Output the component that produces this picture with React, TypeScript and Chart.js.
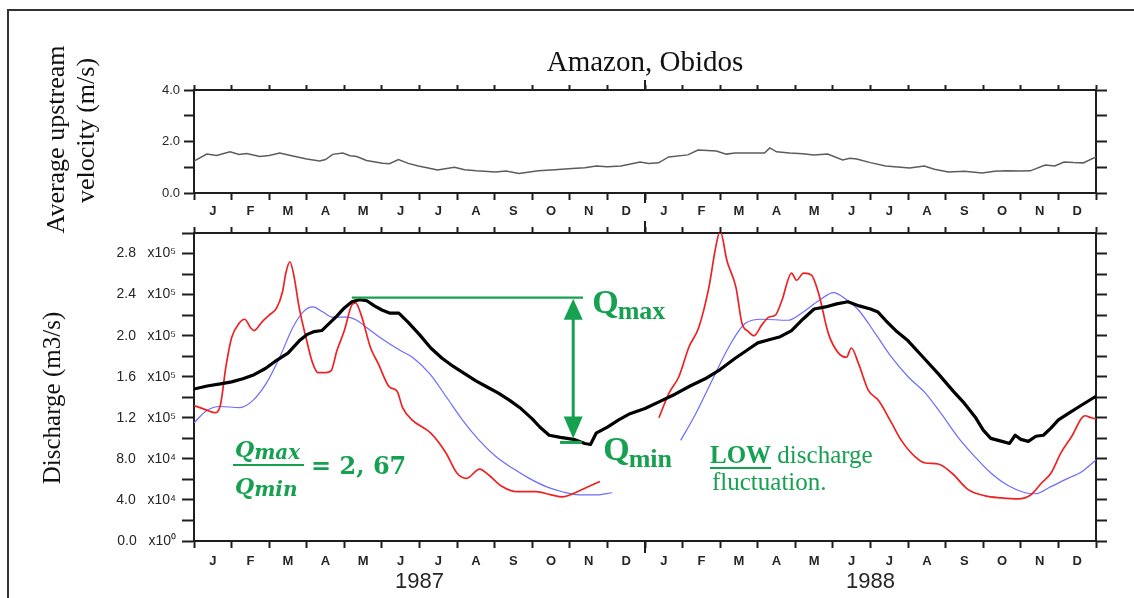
import React, { useEffect, useRef } from 'react';
import { Chart, registerables } from 'chart.js';

Chart.register(...registerables);

// ---------- texts ----------
const TITLE = 'Amazon, Obidos';
const VEL_AXIS_TITLE = ['Average upstream', 'velocity (m/s)'];
const Q_AXIS_TITLE = 'Discharge (m3/s)';
const MONTH_LETTERS = ['J', 'F', 'M', 'A', 'M', 'J', 'J', 'A', 'S', 'O', 'N', 'D'];
const YEAR_LABELS = ['1987', '1988'];
const YEAR_CENTERS = [6, 18];
const YEAR_BOUNDARY = 12;

// ---------- tick values / labels ----------
const VEL_TICKS = [0, 1, 2, 3, 4];
const VEL_TICK_LABELS = ['0.0', '', '2.0', '', '4.0'];
const Q_TICKS = [0, 0.2, 0.4, 0.6, 0.8, 1.0, 1.2, 1.4, 1.6, 1.8, 2.0, 2.2, 2.4, 2.6, 2.8, 3.0];
const Q_TICK_LABELS = [
  '0.0   x10⁰', '', '4.0   x10⁴', '', '8.0   x10⁴', '', '1.2   x10⁵', '', '1.6   x10⁵', '',
  '2.0   x10⁵', '', '2.4   x10⁵', '', '2.8   x10⁵', '',
];
const MONTH_EDGES = [0, 1, 2, 3, 4, 5, 6, 7, 8, 9, 10, 11, 12, 13, 14, 15, 16, 17, 18, 19, 20, 21, 22, 23, 24];

// ---------- data (x: months since 1 Jan 1987) ----------
// average upstream velocity (m/s)
const VEL_T = [0, 0.34, 0.6, 0.96, 1.2, 1.4, 1.75, 2.0, 2.28, 2.63, 3.0, 3.34, 3.5, 3.69, 3.96, 4.15, 4.33, 4.59, 5.02, 5.2,
  5.44, 5.7, 5.97, 6.2, 6.48, 6.93, 7.2, 7.51, 8.02, 8.3, 8.65, 9.16, 9.6, 10.06, 10.4, 10.7, 11.0, 11.36, 11.87, 12.1,
  12.36, 12.63, 13.14, 13.41, 13.9, 14.16, 14.4, 14.67, 15.18, 15.32, 15.5, 15.85, 16.2, 16.49, 16.86, 17.26, 17.45, 17.63, 18.0, 18.4,
  19.04, 19.43, 19.7, 20.07, 20.5, 20.97, 21.3, 21.61, 22.0, 22.25, 22.65, 22.9, 23.15, 23.4, 23.66, 24.0];
const VEL = [1.24, 1.51, 1.46, 1.6, 1.5, 1.53, 1.42, 1.46, 1.55, 1.44, 1.32, 1.24, 1.3, 1.5, 1.55, 1.45, 1.42, 1.26, 1.16, 1.14,
  1.3, 1.15, 1.05, 0.98, 0.89, 1.0, 0.9, 0.86, 0.82, 0.85, 0.76, 0.86, 0.9, 0.95, 0.98, 1.05, 1.02, 1.05, 1.2, 1.15,
  1.17, 1.4, 1.48, 1.67, 1.63, 1.51, 1.55, 1.55, 1.55, 1.75, 1.6, 1.55, 1.52, 1.48, 1.51, 1.28, 1.35, 1.32, 1.18, 1.05,
  0.97, 1.05, 0.92, 0.82, 0.84, 0.78, 0.84, 0.86, 0.85, 0.86, 1.09, 1.05, 1.2, 1.18, 1.17, 1.4];

// observed discharge (x10^5 m3/s) - black
const OBS_T = [0, 0.35, 0.7, 1.0, 1.3, 1.6, 1.9, 2.2, 2.5, 2.8, 3.0, 3.2, 3.4, 3.6, 3.8, 4.0, 4.2, 4.4, 4.6, 4.8,
  5.0, 5.2, 5.45, 5.7, 6.0, 6.3, 6.6, 6.9, 7.2, 7.5, 7.8, 8.1, 8.4, 8.7, 9.0, 9.2, 9.45, 9.75, 10.1, 10.4,
  10.55, 10.7, 11.0, 11.3, 11.6, 12.0, 12.4, 12.8, 13.2, 13.6, 14.0, 14.4, 14.8, 15.0, 15.3, 15.6, 15.9, 16.2, 16.5, 16.8,
  17.1, 17.4, 17.7, 18.0, 18.2, 18.4, 18.7, 19.0, 19.4, 19.8, 20.2, 20.5, 20.8, 21.0, 21.2, 21.5, 21.7, 21.85, 22.0, 22.2,
  22.4, 22.6, 22.8, 23.0, 23.3, 23.6, 24.0];
const OBS = [1.48, 1.51, 1.53, 1.55, 1.58, 1.62, 1.68, 1.76, 1.83, 1.95, 2.01, 2.04, 2.05, 2.12, 2.19, 2.27, 2.33, 2.35, 2.34, 2.29,
  2.25, 2.22, 2.22, 2.13, 2.01, 1.88, 1.78, 1.7, 1.63, 1.56, 1.5, 1.44, 1.37, 1.29, 1.19, 1.11, 1.03, 1.01, 0.99, 0.95,
  0.94, 1.05, 1.11, 1.18, 1.24, 1.29, 1.36, 1.43, 1.51, 1.58, 1.67, 1.78, 1.88, 1.93, 1.96, 1.99, 2.05, 2.16, 2.26, 2.28,
  2.31, 2.33, 2.29, 2.26, 2.23, 2.15, 2.04, 1.95, 1.79, 1.63, 1.46, 1.34, 1.2, 1.08, 1.0, 0.97, 0.95, 1.03, 0.99, 0.97,
  1.02, 1.03, 1.1, 1.18, 1.25, 1.32, 1.41];

// simulated discharge (x10^5 m3/s) - red
const RED87_T = [0, 0.3, 0.55, 0.7, 0.85, 1.0, 1.2, 1.35, 1.5, 1.6, 1.8, 2.0, 2.2, 2.35, 2.45, 2.55, 2.65, 2.8, 3.0, 3.15,
  3.3, 3.5, 3.65, 3.8, 4.0, 4.2, 4.3, 4.45, 4.7, 4.9, 5.2, 5.4, 5.55, 5.8, 6.3, 6.7, 7.0, 7.25, 7.6, 7.85,
  8.2, 8.6, 9.1, 9.5, 9.8, 10.2, 10.5, 10.8];
const RED87 = [1.32, 1.28, 1.25, 1.32, 1.7, 1.98, 2.12, 2.16, 2.08, 2.05, 2.13, 2.2, 2.27, 2.42, 2.62, 2.72, 2.6, 2.27, 1.95, 1.74,
  1.64, 1.64, 1.66, 1.85, 2.05, 2.3, 2.32, 2.2, 1.88, 1.73, 1.5, 1.46, 1.3, 1.18, 1.05, 0.86, 0.66, 0.61, 0.7, 0.64,
  0.53, 0.48, 0.48, 0.45, 0.43, 0.48, 0.53, 0.58];
const RED88_T = [12.37, 12.64, 12.9, 13.17, 13.43, 13.7, 13.88, 14.0, 14.18, 14.42, 14.58, 14.75, 14.9, 15.1, 15.29, 15.47, 15.64, 15.9, 16.03, 16.22,
  16.43, 16.62, 16.88, 17.15, 17.36, 17.49, 17.68, 17.94, 18.21, 18.56, 18.82, 19.19, 19.46, 19.8, 20.17, 20.6, 21.05, 21.48, 21.93, 22.27,
  22.54, 22.8, 23.07, 23.34, 23.71, 23.87, 24.0];
const RED88 = [1.2, 1.44, 1.6, 1.89, 2.08, 2.47, 2.86, 3.02, 2.73, 2.47, 2.12, 2.04, 2.0, 2.1, 2.18, 2.2, 2.34, 2.61, 2.54, 2.61,
  2.59, 2.41, 2.02, 1.83, 1.79, 1.88, 1.73, 1.47, 1.37, 1.15, 0.98, 0.82, 0.76, 0.75, 0.66, 0.5, 0.44, 0.42, 0.41, 0.45,
  0.56, 0.66, 0.86, 1.01, 1.22, 1.2, 1.19];

// simulated discharge (x10^5 m3/s) - blue
const BLUE87_T = [0, 0.34, 0.69, 1.22, 1.57, 1.93, 2.28, 2.63, 2.9, 3.16, 3.43, 3.69, 4.06, 4.33, 4.59, 5.0, 5.47, 5.81, 6.27, 6.72,
  7.14, 7.59, 8.04, 8.47, 8.92, 9.37, 9.8, 10.25, 10.7, 11.13];
const BLUE87 = [1.15, 1.27, 1.31, 1.3, 1.37, 1.54, 1.79, 2.08, 2.23, 2.28, 2.23, 2.18, 2.18, 2.15, 2.08, 1.97, 1.86, 1.79, 1.63, 1.4,
  1.18, 0.98, 0.82, 0.71, 0.61, 0.53, 0.48, 0.45, 0.45, 0.47];
const BLUE88_T = [12.95, 13.35, 13.78, 14.23, 14.67, 15.1, 15.8, 16.17, 16.62, 17.02, 17.33, 17.68, 18.13, 18.56, 19.0, 19.46, 19.88, 20.33, 20.78, 21.21,
  21.66, 22.11, 22.38, 22.8, 23.25, 23.6, 24.0];
const BLUE88 = [0.98, 1.24, 1.56, 1.89, 2.12, 2.16, 2.15, 2.22, 2.34, 2.42, 2.36, 2.25, 2.02, 1.79, 1.6, 1.44, 1.24, 1.01, 0.82, 0.66,
  0.54, 0.47, 0.46, 0.53, 0.61, 0.67, 0.79];

// annotation values (x10^5 m3/s, months)
const Q_MAX = 2.37;
const Q_MIN = 0.96;
const QMAX_LINE = [4.2, 10.35];
const QMIN_LINE = [9.74, 10.32];
const ARROW_MONTH = 10.09;
const RATIO_TEXT = '= 2, 67';
const LOW_WORD = 'LOW';
const LOW_LINE1_REST = ' discharge';
const LOW_LINE2 = 'fluctuation.';

// ---------- styles ----------
const SERIF = '"Liberation Serif", "Times New Roman", Times, serif';
const SANS = '"Liberation Sans", Arial, Helvetica, sans-serif';
const MATH = '"DejaVu Serif", Cambria, serif';
const GREEN = '#15a14f';
const AXIS = '#1e1e1e';
const LABEL = '#262626';

const X_TICKS: number[] = [];
const X_TICK_LABELS: string[] = [];
for (let i = 0; i < MONTH_EDGES.length; i++) {
  X_TICKS.push(MONTH_EDGES[i]);
  X_TICK_LABELS.push('');
  if (i < MONTH_EDGES.length - 1) {
    X_TICKS.push((MONTH_EDGES[i] + MONTH_EDGES[i + 1]) / 2);
    X_TICK_LABELS.push(MONTH_LETTERS[i % 12]);
  }
}

const pts = (t: number[], v: number[]) => t.map((m, i) => ({ x: m, y: v[i] }));

function monthAxis(height: number, tickLen: number, pad: number) {
  return {
    type: 'linear', position: 'bottom', min: 0, max: 24,
    afterBuildTicks: (s: any) => { s.ticks = X_TICKS.map((v) => ({ value: v })); },
    afterFit: (s: any) => { s.height = height; },
    ticks: {
      autoSkip: false, maxRotation: 0, minRotation: 0, padding: pad, color: LABEL,
      font: { family: SANS, size: 13, weight: 'bold' },
      callback: (_v: any, i: number) => X_TICK_LABELS[i],
    },
    grid: {
      drawOnChartArea: false, tickLength: tickLen, tickWidth: 2,
      tickColor: (c: any) => (c.index % 2 === 0 ? AXIS : 'rgba(0,0,0,0)'),
    },
    border: { display: true, color: AXIS, width: 2 },
  };
}

function edgeAxis(height: number, tickLen: number) {
  return {
    type: 'linear', position: 'top', min: 0, max: 24,
    afterBuildTicks: (s: any) => { s.ticks = MONTH_EDGES.map((v) => ({ value: v })); },
    afterFit: (s: any) => { s.height = height; },
    ticks: { display: false },
    grid: { drawOnChartArea: false, tickLength: tickLen, tickWidth: 2, tickColor: AXIS },
    border: { display: true, color: AXIS, width: 2 },
  };
}

function valueAxis(position: string, width: number, ticks: number[], labels: string[] | null,
  min: number, max: number, tickLen: number, pad: number, size: number) {
  return {
    type: 'linear', position, min, max,
    afterBuildTicks: (s: any) => { s.ticks = ticks.map((v) => ({ value: v })); },
    afterFit: (s: any) => { s.width = width; },
    ticks: labels
      ? { display: true, padding: pad, color: LABEL, font: { family: SANS, size }, callback: (_v: any, i: number) => labels[i] }
      : { display: false },
    grid: { drawOnChartArea: false, tickLength: tickLen, tickWidth: 2, tickColor: AXIS },
    border: { display: true, color: AXIS, width: 2 },
  };
}

function seg(ctx: CanvasRenderingContext2D, x1: number, y1: number, x2: number, y2: number) {
  ctx.beginPath(); ctx.moveTo(x1, y1); ctx.lineTo(x2, y2); ctx.stroke();
}

function yearTicks(ctx: CanvasRenderingContext2D, chart: any, up: number, down: number) {
  const a = chart.chartArea;
  const px = chart.scales.x.getPixelForValue(YEAR_BOUNDARY);
  ctx.strokeStyle = AXIS; ctx.lineWidth = 2;
  seg(ctx, px, a.top - up, px, a.top);
  seg(ctx, px, a.bottom, px, a.bottom + down);
}

function rotatedText(ctx: CanvasRenderingContext2D, text: string, baseX: number, cy: number) {
  ctx.save();
  ctx.translate(baseX, cy);
  ctx.rotate(-Math.PI / 2);
  ctx.textAlign = 'center';
  ctx.textBaseline = 'alphabetic';
  ctx.fillText(text, 0, 0);
  ctx.restore();
}

const topDecor = {
  id: 'topDecor',
  afterDraw(chart: any) {
    const { ctx, chartArea: a, width, height } = chart;
    ctx.save();
    // picture frame (top and left edges)
    ctx.strokeStyle = '#333'; ctx.lineWidth = 2;
    ctx.beginPath(); ctx.moveTo(8, height); ctx.lineTo(8, 10); ctx.lineTo(width, 10); ctx.stroke();
    yearTicks(ctx, chart, 10, 10);
    ctx.fillStyle = '#111';
    ctx.font = `29px ${SERIF}`;
    ctx.textAlign = 'center';
    ctx.textBaseline = 'alphabetic';
    ctx.fillText(TITLE, (a.left + a.right) / 2, a.top - 19);
    ctx.font = `26px ${SERIF}`;
    const cy = (a.top + a.bottom) / 2;
    rotatedText(ctx, VEL_AXIS_TITLE[0], 64, cy - 2);
    rotatedText(ctx, VEL_AXIS_TITLE[1], 94, cy - 11);
    ctx.restore();
  },
};

const bottomDecor = {
  id: 'bottomDecor',
  afterDatasetsDraw(chart: any) {
    const { ctx, scales } = chart;
    const x = scales.x, y = scales.y;
    const yMax = y.getPixelForValue(Q_MAX);
    const yMin = y.getPixelForValue(Q_MIN);
    const ax = x.getPixelForValue(ARROW_MONTH);
    ctx.save();
    ctx.strokeStyle = GREEN; ctx.fillStyle = GREEN;
    ctx.lineWidth = 2.2;
    seg(ctx, x.getPixelForValue(QMAX_LINE[0]), yMax, x.getPixelForValue(QMAX_LINE[1]), yMax);
    ctx.lineWidth = 3;
    seg(ctx, x.getPixelForValue(QMIN_LINE[0]), yMin, x.getPixelForValue(QMIN_LINE[1]), yMin);
    seg(ctx, ax, yMax + 15, ax, yMin - 20);
    ctx.beginPath(); ctx.moveTo(ax, yMax + 1); ctx.lineTo(ax - 9.5, yMax + 22); ctx.lineTo(ax + 9.5, yMax + 22); ctx.closePath(); ctx.fill();
    ctx.beginPath(); ctx.moveTo(ax, yMin - 4); ctx.lineTo(ax - 9.5, yMin - 26); ctx.lineTo(ax + 9.5, yMin - 26); ctx.closePath(); ctx.fill();
    ctx.restore();
  },
  afterDraw(chart: any) {
    const { ctx, chartArea: a, scales } = chart;
    const y = scales.y;
    const yMax = y.getPixelForValue(Q_MAX);
    const yMin = y.getPixelForValue(Q_MIN);
    const ax = scales.x.getPixelForValue(ARROW_MONTH);
    ctx.save();
    yearTicks(ctx, chart, 12, 12);
    // axis title
    ctx.fillStyle = '#111';
    ctx.font = `25px ${SERIF}`;
    rotatedText(ctx, Q_AXIS_TITLE, 60, (a.top + a.bottom) / 2 + 11);

    ctx.fillStyle = GREEN; ctx.strokeStyle = GREEN;
    ctx.textAlign = 'left'; ctx.textBaseline = 'alphabetic';
    // Q max label
    ctx.font = `bold 34px ${SERIF}`;
    let qw = ctx.measureText('Q').width;
    ctx.fillText('Q', ax + 19, yMax + 15);
    ctx.font = `bold 26px ${SERIF}`;
    ctx.fillText('max', ax + 18 + qw, yMax + 21);
    // Q min label
    ctx.font = `bold 34px ${SERIF}`;
    ctx.fillText('Q', ax + 30, yMin + 18);
    ctx.font = `bold 26px ${SERIF}`;
    ctx.fillText('min', ax + 29 + qw, yMin + 25);

    // ratio
    ctx.font = `italic bold 22px ${MATH}`;
    qw = ctx.measureText('Q').width;
    ctx.fillText('Q', 235, 457);
    ctx.fillText('Q', 235, 494);
    ctx.font = `italic bold 20px ${MATH}`;
    ctx.fillText('max', 235 + qw, 459);
    ctx.fillText('min', 235 + qw, 496);
    ctx.lineWidth = 2;
    seg(ctx, 233, 465, 304, 465);
    ctx.font = `bold 24px ${MATH}`;
    ctx.fillText(RATIO_TEXT, 311, 474);

    // LOW discharge fluctuation.
    ctx.font = `bold 25px ${SERIF}`;
    const lw = ctx.measureText(LOW_WORD).width;
    ctx.fillText(LOW_WORD, 710, 463);
    ctx.lineWidth = 2;
    seg(ctx, 710, 468, 710 + lw, 468);
    ctx.font = `25px ${SERIF}`;
    ctx.fillText(LOW_LINE1_REST, 710 + lw, 463);
    ctx.fillText(LOW_LINE2, 712, 490);
    ctx.restore();
  },
};

const baseOptions = {
  responsive: false,
  animation: false,
  events: [],
  layout: { padding: 0 },
  plugins: { legend: { display: false }, tooltip: { enabled: false }, title: { display: false } },
};

export default function App() {
  const topRef = useRef<HTMLCanvasElement>(null);
  const botRef = useRef<HTMLCanvasElement>(null);

  useEffect(() => {
    const top = new Chart(topRef.current as HTMLCanvasElement, {
      type: 'line',
      data: {
        datasets: [
          { data: pts(VEL_T, VEL), borderColor: '#5c5c5c', borderWidth: 1.5, pointRadius: 0, tension: 0 },
        ],
      },
      options: {
        ...baseOptions,
        scales: {
          x: monthAxis(405, 7, 4),
          x2: edgeAxis(90, 5),
          y: valueAxis('left', 194, VEL_TICKS, VEL_TICK_LABELS, 0, 4, 10, 4, 13),
          y2: valueAxis('right', 38, VEL_TICKS, null, 0, 4, 11, 0, 13),
        },
      } as any,
      plugins: [topDecor],
    });

    const line = (d: any, color: string, width: number, tension: number) => ({
      data: d, borderColor: color, borderWidth: width, pointRadius: 0, tension,
      cubicInterpolationMode: tension > 0 ? 'monotone' : 'default', borderJoinStyle: 'round',
    });

    const bot = new Chart(botRef.current as HTMLCanvasElement, {
      type: 'line',
      data: {
        datasets: [
          line(pts(OBS_T, OBS), '#000000', 3.2, 0),
          line(pts(RED87_T, RED87), '#ee2222', 1.7, 0.4),
          line(pts(RED88_T, RED88), '#ee2222', 1.7, 0.4),
          line(pts(BLUE87_T, BLUE87), '#6b6bff', 1.2, 0.4),
          line(pts(BLUE88_T, BLUE88), '#6b6bff', 1.2, 0.4),
        ],
      },
      options: {
        ...baseOptions,
        scales: {
          x: monthAxis(24, 7, 6),
          xYear: {
            type: 'linear', position: 'bottom', min: 0, max: 24,
            afterBuildTicks: (s: any) => { s.ticks = YEAR_CENTERS.map((v) => ({ value: v })); },
            afterFit: (s: any) => { s.height = 33; },
            ticks: {
              autoSkip: false, maxRotation: 0, padding: 4, color: LABEL,
              font: { family: SANS, size: 22 },
              callback: (_v: any, i: number) => YEAR_LABELS[i],
            },
            grid: { display: false, drawTicks: false },
            border: { display: false },
          },
          x2: edgeAxis(233, 6),
          y: valueAxis('left', 194, Q_TICKS, Q_TICK_LABELS, 0, 3.0, 12, 6, 14),
          y2: valueAxis('right', 38, Q_TICKS, null, 0, 3.0, 11, 0, 13),
        },
      } as any,
      plugins: [bottomDecor],
    });

    return () => { top.destroy(); bot.destroy(); };
  }, []);

  return (
    <div style={{ position: 'absolute', left: 0, top: 0, width: 1134, height: 598, background: '#fff', overflow: 'hidden' }}>
      <canvas ref={topRef} width={1134} height={598} style={{ position: 'absolute', left: 0, top: 0 }} />
      <canvas ref={botRef} width={1134} height={598} style={{ position: 'absolute', left: 0, top: 0 }} />
    </div>
  );
}
